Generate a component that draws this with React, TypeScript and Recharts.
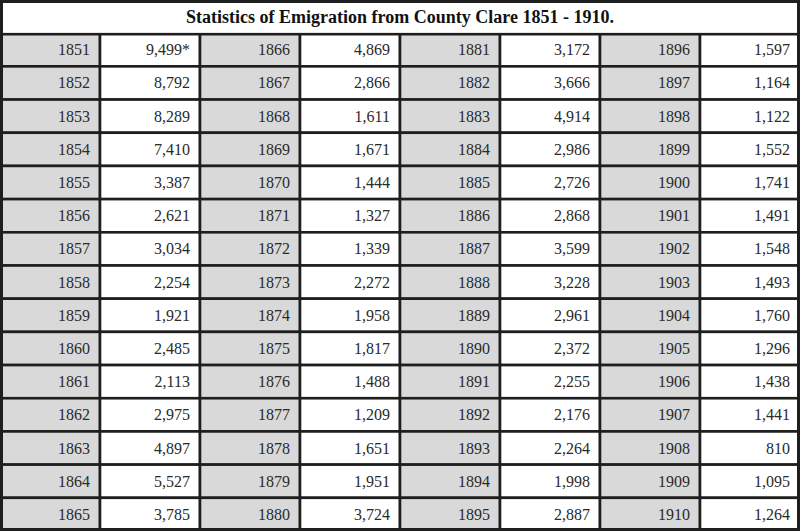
import { ScatterChart, Scatter, XAxis, YAxis } from "recharts";

const title = "Statistics of Emigration from County Clare 1851 - 1910.";

const years1 = [1851, 1852, 1853, 1854, 1855, 1856, 1857, 1858, 1859, 1860, 1861, 1862, 1863, 1864, 1865];
const years2 = [1866, 1867, 1868, 1869, 1870, 1871, 1872, 1873, 1874, 1875, 1876, 1877, 1878, 1879, 1880];
const years3 = [1881, 1882, 1883, 1884, 1885, 1886, 1887, 1888, 1889, 1890, 1891, 1892, 1893, 1894, 1895];
const years4 = [1896, 1897, 1898, 1899, 1900, 1901, 1902, 1903, 1904, 1905, 1906, 1907, 1908, 1909, 1910];

const emig1 = ["9,499*", "8,792", "8,289", "7,410", "3,387", "2,621", "3,034", "2,254", "1,921", "2,485", "2,113", "2,975", "4,897", "5,527", "3,785"];
const emig2 = ["4,869", "2,866", "1,611", "1,671", "1,444", "1,327", "1,339", "2,272", "1,958", "1,817", "1,488", "1,209", "1,651", "1,951", "3,724"];
const emig3 = ["3,172", "3,666", "4,914", "2,986", "2,726", "2,868", "3,599", "3,228", "2,961", "2,372", "2,255", "2,176", "2,264", "1,998", "2,887"];
const emig4 = ["1,597", "1,164", "1,122", "1,552", "1,741", "1,491", "1,548", "1,493", "1,760", "1,296", "1,438", "1,441", "810", "1,095", "1,264"];

const W = 800;
const H = 531;
const COLS = 8;
const ROWS = 16; // title + 15 rows
const cw = W / COLS;
const rh = H / ROWS;

const yearCols = [years1, years2, years3, years4];
const valCols = [emig1, emig2, emig3, emig4];

const cells: { col: number; row: number; text: string; shaded: boolean }[] = [];
yearCols.forEach((ys, g) => {
  ys.forEach((y, r) => {
    cells.push({ col: g * 2 + 0.5, row: r + 1.5, text: String(y), shaded: true });
    cells.push({ col: g * 2 + 1.5, row: r + 1.5, text: valCols[g][r], shaded: false });
  });
});

const titleData = [{ col: COLS / 2, row: 0.5, text: title }];

function CellShape(props: any) {
  const { cx, cy, payload } = props;
  const x = cx - cw / 2;
  const y = cy - rh / 2;
  return (
    <g>
      <rect
        x={x}
        y={y}
        width={cw}
        height={rh}
        fill={payload.shaded ? "#d9d9d9" : "#ffffff"}
        stroke="#1e1e1e"
        strokeWidth={2.6}
      />
      <text
        x={x + cw - 10}
        y={cy + 5.5}
        textAnchor="end"
        fontFamily="'Liberation Serif', serif"
        fontSize={16}
        fill="#2a2a2a"
      >
        {payload.text}
      </text>
    </g>
  );
}

function TitleShape(props: any) {
  const { cx, cy, payload } = props;
  return (
    <g>
      <rect x={1.5} y={cy - rh / 2 + 1} width={W - 3} height={rh} fill="#ffffff" stroke="#1e1e1e" strokeWidth={2.6} />
      <text
        x={cx}
        y={cy + 6.5}
        textAnchor="middle"
        fontFamily="'Liberation Serif', serif"
        fontWeight="bold"
        fontSize={18}
        fill="#111"
      >
        {payload.text}
      </text>
    </g>
  );
}

export default function App() {
  return (
    <div style={{ position: "absolute", left: 0, top: 0, width: W, height: H, background: "#fff" }}>
      <ScatterChart width={W} height={H} margin={{ top: 0, right: 0, bottom: 0, left: 0 }}>
        <XAxis type="number" dataKey="col" domain={[0, COLS]} hide />
        <YAxis type="number" dataKey="row" domain={[0, ROWS]} reversed hide />
        <Scatter data={cells} shape={<CellShape />} isAnimationActive={false} />
        <Scatter data={titleData} shape={<TitleShape />} isAnimationActive={false} />
      </ScatterChart>
      <svg width={W} height={H} style={{ position: "absolute", left: 0, top: 0, pointerEvents: "none" }}>
        <rect x={1.5} y={1.5} width={W - 3} height={H - 3} fill="none" stroke="#1e1e1e" strokeWidth={3} />
      </svg>
    </div>
  );
}
